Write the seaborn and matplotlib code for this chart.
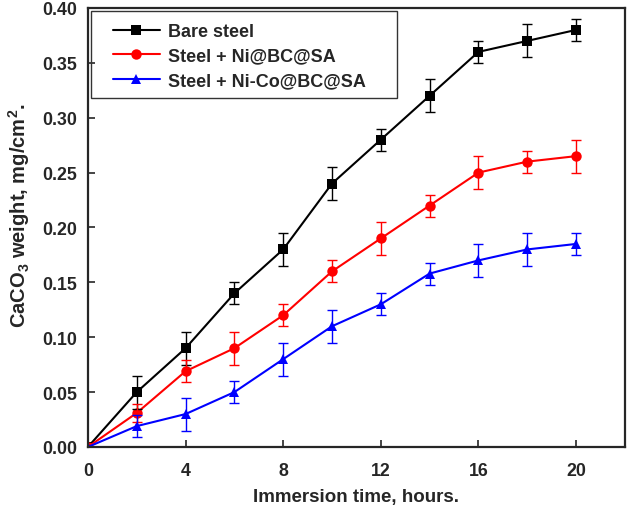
import numpy as np
import pandas as pd
import matplotlib
matplotlib.use("Agg")
import matplotlib.pyplot as plt
import seaborn as sns
from matplotlib.patches import Rectangle
from matplotlib.ticker import FormatStrFormatter

# data
hours = [0, 2, 4, 6, 8, 10, 12, 14, 16, 18, 20]
series_names = ["Bare steel", "Steel + Ni@BC@SA", "Steel + Ni-Co@BC@SA"]
bare = [0.0, 0.05, 0.09, 0.14, 0.18, 0.24, 0.28, 0.32, 0.36, 0.37, 0.38]
bare_err = [0.0, 0.015, 0.015, 0.01, 0.015, 0.015, 0.01, 0.015, 0.01, 0.015, 0.01]
ni = [0.0, 0.031, 0.069, 0.09, 0.12, 0.16, 0.19, 0.22, 0.25, 0.26, 0.265]
ni_err = [0.0, 0.008, 0.01, 0.015, 0.01, 0.01, 0.015, 0.01, 0.015, 0.01, 0.015]
nico = [0.0, 0.019, 0.03, 0.05, 0.08, 0.11, 0.13, 0.158, 0.17, 0.18, 0.185]
nico_err = [0.0, 0.01, 0.015, 0.01, 0.015, 0.015, 0.01, 0.01, 0.015, 0.015, 0.01]

colors = ["black", "red", "blue"]
markers = ["s", "o", "^"]

sns.set_style("ticks")
plt.rcParams["font.family"] = ["Liberation Sans", "DejaVu Sans"]
plt.rcParams["font.weight"] = "bold"
plt.rcParams["mathtext.fontset"] = "custom"
plt.rcParams["mathtext.bf"] = "Liberation Sans:bold"
plt.rcParams["mathtext.rm"] = "Liberation Sans:bold"
plt.rcParams["mathtext.default"] = "bf"

df = pd.DataFrame({
    "hours": hours * 3,
    "weight": bare + ni + nico,
    "err": bare_err + ni_err + nico_err,
    "series": np.repeat(series_names, len(hours)),
})

fig = plt.figure(figsize=(6.28, 5.10), dpi=100)
ax = fig.add_axes([0.140, 0.1216, 0.855, 0.8608])

sns.lineplot(data=df, x="hours", y="weight", hue="series", style="series",
             hue_order=series_names, style_order=series_names,
             palette=colors, markers=markers, dashes=False,
             markersize=7.5, markeredgewidth=0, linewidth=1.5, ax=ax)

for name, c in zip(series_names, colors):
    sub = df[df["series"] == name]
    ax.errorbar(sub["hours"], sub["weight"], yerr=sub["err"], fmt="none",
                ecolor=c, elinewidth=1, capsize=3.5, capthick=1)

ax.set_xlim(0, 22)
ax.set_ylim(0, 0.40)
ax.set_xticks([0, 4, 8, 12, 16, 20])
ax.set_yticks(np.arange(0, 0.401, 0.05))
ax.yaxis.set_major_formatter(FormatStrFormatter("%.2f"))
ax.tick_params(direction="in", length=5, width=1.2, labelsize=12.8)
ax.tick_params(axis="x", pad=11)
ax.tick_params(axis="y", pad=8)
for lab in ax.get_xticklabels() + ax.get_yticklabels():
    lab.set_fontweight("bold")
for sp in ax.spines.values():
    sp.set_visible(True)
    sp.set_linewidth(1.6)

ax.set_xlabel("Immersion time, hours.", fontsize=13.5, fontweight="bold", labelpad=6)
ax.set_ylabel(r"CaCO$_3$ weight, mg/cm$^2$.", fontsize=14.5, fontweight="bold")
ax.yaxis.set_label_coords(-0.104, 0.53)

# legend without its own frame, box drawn separately to get the wide side padding
leg = ax.legend(loc="upper left", bbox_to_anchor=(0.046, 0.966), frameon=False,
                borderpad=0, borderaxespad=0, handlelength=2.6, handletextpad=0.45,
                labelspacing=0.42, prop={"weight": "bold", "size": 13})
ax.add_patch(Rectangle((0.0056, 0.795), 0.57, 0.198, transform=ax.transAxes,
                       fill=False, edgecolor="#333333", linewidth=1.0, zorder=5))

fig.savefig("out.png", dpi=100)
